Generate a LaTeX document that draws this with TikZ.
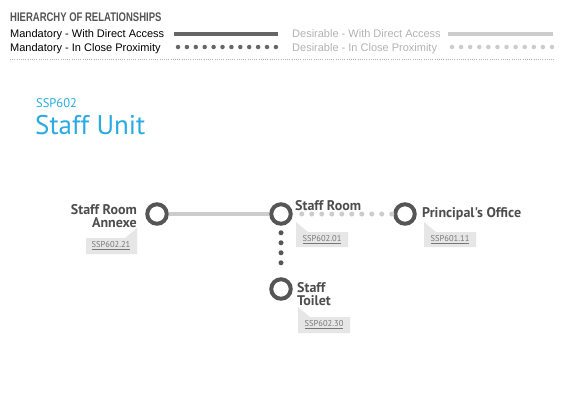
\documentclass[tikz,border=0pt]{standalone}
\usepackage{fontspec}
\setmainfont{Liberation Sans}
\newfontfamily\dinfont{PT Sans}
\definecolor{ringgray}{HTML}{555555}
\definecolor{lightline}{HTML}{CCCCCC}
\definecolor{darkline}{HTML}{666666}
\definecolor{labelgray}{HTML}{4D4D4D}
\definecolor{tagfill}{HTML}{E6E6E6}
\definecolor{tagtxtcol}{HTML}{777777}
\definecolor{unitblue}{HTML}{29ABE2}
\definecolor{desgray}{HTML}{B3B3B3}
\definecolor{titlegray}{HTML}{555555}
\begin{document}
\begin{tikzpicture}[x=1pt,y=-1pt,
  room/.style={circle, draw=ringgray, fill=white, line width=4pt, minimum size=19.5pt, inner sep=0pt},
  roomlabel/.style={font=\dinfont\bfseries\fontsize{14}{14}\selectfont, text=labelgray, inner sep=0pt},
  tagshape/.style={fill=tagfill, draw=none},
  tagtext/.style={font=\dinfont\fontsize{8.5}{8.5}\selectfont, text=tagtxtcol, inner sep=0pt},
  legtext/.style={font=\fontsize{11}{11}\selectfont, inner sep=0pt, anchor=base west},
  solidlink/.style={line width=4pt},
  dotlink/.style={line width=5pt, line cap=round, dash pattern=on 0pt off 10pt},
  legdots/.style={line width=4.5pt, line cap=round, dash pattern=on 0pt off 9.7pt}]
\useasboundingbox (0,0) rectangle (565,400);
\fill[white] (0,0) rectangle (565,400);

% legend
\node[anchor=base west, inner sep=0pt, text=titlegray, font=\bfseries\fontsize{12.5}{12.5}\selectfont] (title) at (10,21) {\scalebox{0.76}[1]{HIERARCHY OF RELATIONSHIPS}};
\node[legtext, text=black] (mwda) at (10,37) {Mandatory - With Direct Access};
\node[legtext, text=black] (mcp) at (10,51) {Mandatory - In Close Proximity};
\node[legtext, text=desgray] (dwda) at (292,37) {Desirable - With Direct Access};
\node[legtext, text=desgray] (dcp) at (292,51) {Desirable - In Close Proximity};
\coordinate (m1a) at (174,34); \coordinate (m1b) at (278,34);
\coordinate (m2a) at (178,47); \coordinate (m2b) at (276,47);
\coordinate (d1a) at (448,34); \coordinate (d1b) at (553,34);
\coordinate (d2a) at (452,47); \coordinate (d2b) at (552,47);
\draw[solidlink, darkline] (m1a) -- (m1b);
\draw[legdots, darkline, dash pattern=on 0pt off 8.9pt] (m2a) -- (m2b);
\draw[solidlink, lightline] (d1a) -- (d1b);
\draw[legdots, lightline, dash pattern=on 0pt off 9.09pt] (d2a) -- (d2b);
\coordinate (sepa) at (10,59); \coordinate (sepb) at (555,59);
\draw[desgray, line width=0.6pt, dash pattern=on 1pt off 1.2pt] (sepa) -- (sepb);

% unit heading
\node[anchor=base west, inner sep=0pt, text=unitblue, font=\dinfont\fontsize{12.5}{12.5}\selectfont] (code) at (36,107) {SSP602};
\node[anchor=base west, inner sep=0pt, text=unitblue, font=\dinfont\fontsize{27}{27}\selectfont] (unit) at (35,134) {Staff Unit};

% rooms
\node[room] (A) at (157,214) {};
\node[room] (S) at (281,214) {};
\node[room] (P) at (405,214) {};
\node[room] (T) at (281,289) {};

% connectors
\draw[solidlink, lightline] (A) -- (S);
\draw[dotlink, lightline, shorten <=9pt, shorten >=1pt] (S) -- (P);
\draw[dotlink, ringgray, shorten <=7pt, shorten >=5pt] (S) -- (T);

% labels
\node[roomlabel, anchor=base east, align=right] (Al) at (137,227) {Staff Room\\[-1pt]Annexe};
\node[roomlabel, anchor=base west] (Sl) at (295,210) {Staff Room};
\node[roomlabel, anchor=base west] (Pl) at (422,217) {Principal's Office};
\node[roomlabel, anchor=base west, align=left] (Tl) at (297,305) {Staff\\[-1pt]Toilet};

% tags
\fill[tagshape] (137,228) -- (137,254) -- (86,254) -- (86,238) -- (125,238) -- cycle;
\node[tagtext] (At) at (111,246) {\underline{SSP602.21}};
\fill[tagshape] (296,222) -- (308,232) -- (348,232) -- (348,247) -- (296,247) -- cycle;
\node[tagtext] (St) at (322,239.5) {\underline{SSP602.01}};
\fill[tagshape] (424,222) -- (436,232) -- (476,232) -- (476,247) -- (424,247) -- cycle;
\node[tagtext] (Pt) at (450,239.5) {\underline{SSP601.11}};
\fill[tagshape] (298,307) -- (310,317) -- (350,317) -- (350,333) -- (298,333) -- cycle;
\node[tagtext] (Tt) at (324,325) {\underline{SSP602.30}};
\end{tikzpicture}
\end{document}
